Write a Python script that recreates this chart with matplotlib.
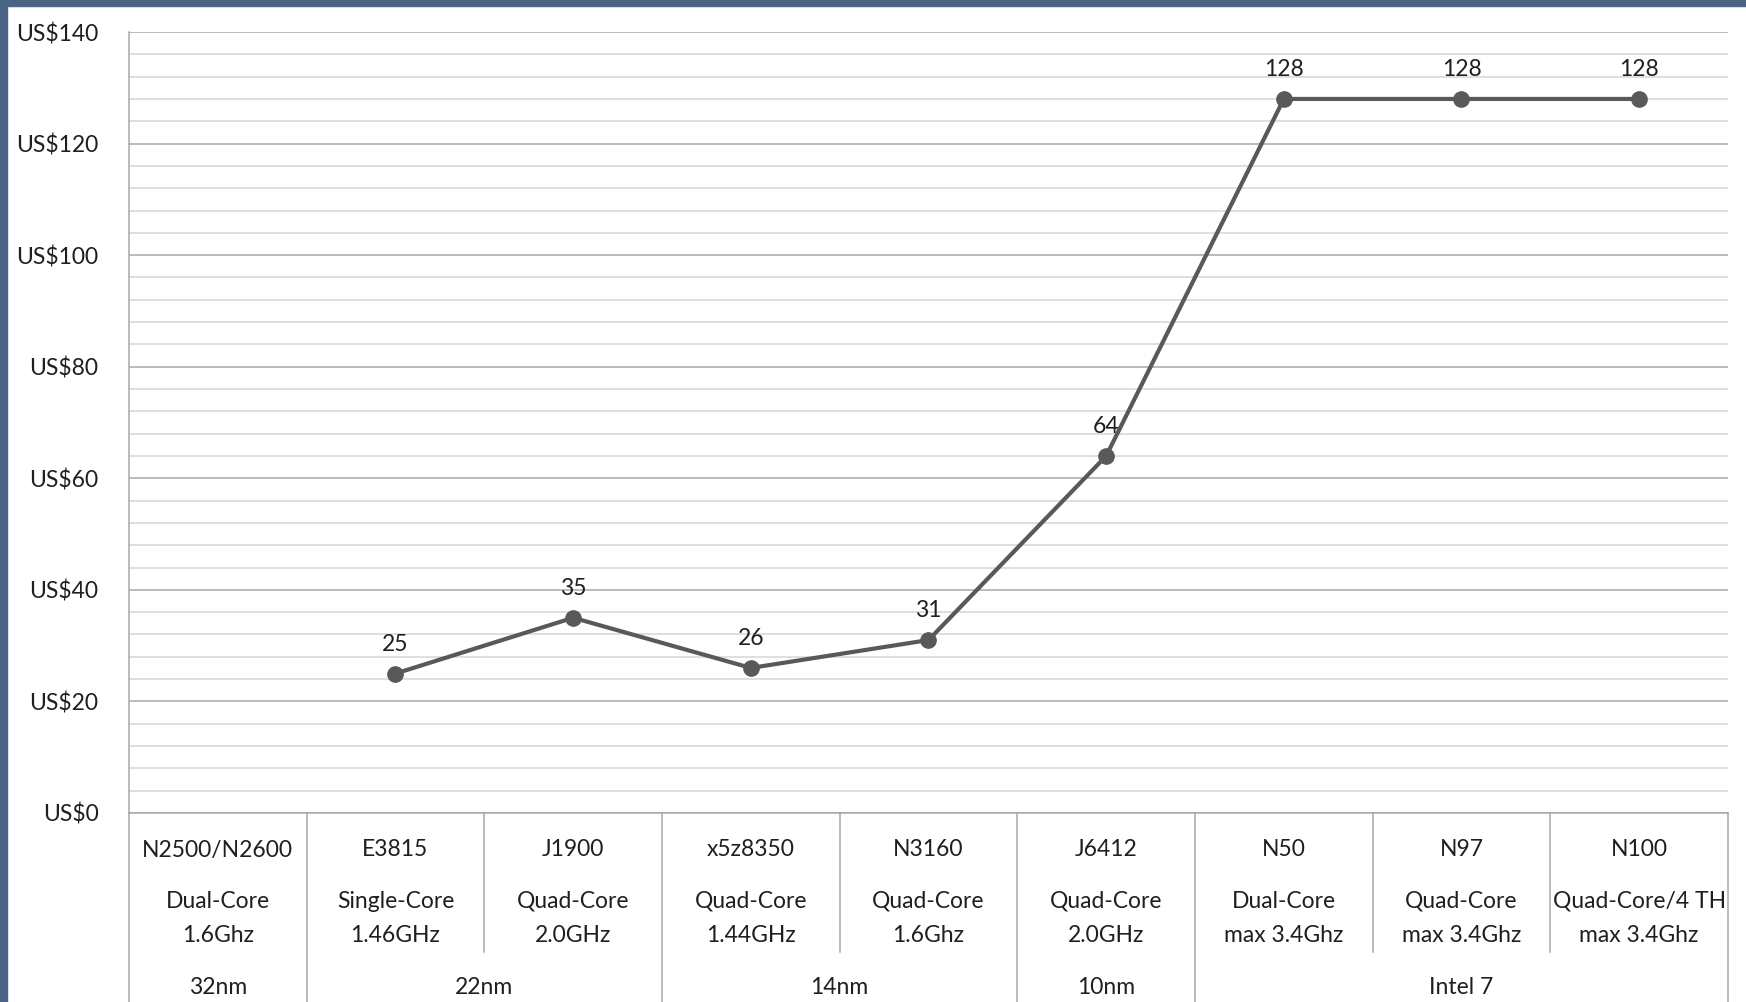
import matplotlib
matplotlib.use("Agg")
import matplotlib.pyplot as plt
from matplotlib.patches import Rectangle

plt.rcParams['font.family'] = ['Lato', 'DejaVu Sans']

# 数据
chips = ["N2500/N2600", "E3815", "J1900", "x5z8350", "N3160", "J6412", "N50", "N97", "N100"]
cores = ["Dual-Core", "Single-Core", "Quad-Core", "Quad-Core", "Quad-Core", "Quad-Core",
         "Dual-Core", "Quad-Core", "Quad-Core/4 TH"]
clocks = ["1.6Ghz", "1.46GHz", "2.0GHz", "1.44GHz", "1.6Ghz", "2.0GHz",
          "max 3.4Ghz", "max 3.4Ghz", "max 3.4Ghz"]
prices = [None, 25, 35, 26, 31, 64, 128, 128, 128]
nodes = ["32nm", "22nm", "14nm", "10nm", "Intel 7"]
node_spans = [(0, 0), (1, 2), (3, 4), (5, 5), (6, 8)]
y_ticks = [0, 20, 40, 60, 80, 100, 120, 140]

W, H = 1746, 1002
AX_L, AX_R, AX_T, AX_B = 129, 1728, 32, 813
TXT = '#1f1f1f'
FS = 16.5

fig = plt.figure(figsize=(W / 100, H / 100), dpi=100)
fig.patch.set_facecolor('white')
# 左侧和顶部的深色边框
fig.patches.append(Rectangle((0, 0), 7 / W, 1, transform=fig.transFigure, color='#4a6485', zorder=10))
fig.patches.append(Rectangle((0, 1 - 6 / H), 1, 6 / H, transform=fig.transFigure, color='#4a6485', zorder=10))

ax = fig.add_axes([AX_L / W, 1 - AX_B / H, (AX_R - AX_L) / W, (AX_B - AX_T) / H])
ax.set_xlim(-0.5, len(chips) - 0.5)
ax.set_ylim(0, 140)

# 网格线
ax.set_yticks(y_ticks)
ax.set_yticks(range(0, 141, 4), minor=True)
ax.grid(which='minor', axis='y', color='#d6d6d6', linewidth=1.1)
ax.grid(which='major', axis='y', color='#a8a8a8', linewidth=1.1)
ax.set_axisbelow(True)
ax.set_yticklabels([f"US${v}" for v in y_ticks], fontsize=FS, color=TXT)
ax.tick_params(axis='y', which='both', length=0, pad=22)
ax.set_xticks([])
for s in ['top', 'right', 'bottom']:
    ax.spines[s].set_visible(False)
ax.spines['left'].set_color('#a8a8a8')
ax.spines['left'].set_linewidth(1.1)

# 折线
xs = [i for i, p in enumerate(prices) if p is not None]
ys = [p for p in prices if p is not None]
ax.plot(xs, ys, color='#595959', linewidth=3.0, marker='o', markersize=11, zorder=3)
for x, y in zip(xs, ys):
    ax.annotate(str(y), (x, y), xytext=(0, 21), textcoords='offset points',
                ha='center', va='center', fontsize=FS, color=TXT)


# 底部分类表格
def ypix(p):
    return (AX_B - p) / (AX_B - AX_T)


tf = ax.get_xaxis_transform()
line_kw = dict(color='#a8a8a8', linewidth=1.1, clip_on=False, transform=tf)
ax.plot([-0.5, len(chips) - 0.5], [0, 0], **line_kw)
ax.plot([-0.5, -0.5], [0, ypix(H)], **line_kw)
ax.plot([len(chips) - 0.5] * 2, [0, ypix(H)], **line_kw)
group_edges = {a - 0.5 for a, b in node_spans if a > 0}
for i in range(1, len(chips)):
    edge = i - 0.5
    end = ypix(H) if edge in group_edges else ypix(952)
    ax.plot([edge, edge], [0, end], **line_kw)

for i in range(len(chips)):
    ax.text(i, ypix(850), chips[i], transform=tf, ha='center', va='center', fontsize=FS, color=TXT)
    ax.text(i, ypix(901), cores[i], transform=tf, ha='center', va='center', fontsize=FS, color=TXT)
    ax.text(i, ypix(935), clocks[i], transform=tf, ha='center', va='center', fontsize=FS, color=TXT)
for name, (a, b) in zip(nodes, node_spans):
    ax.text((a + b) / 2, ypix(987), name, transform=tf, ha='center', va='center', fontsize=FS, color=TXT)

fig.savefig('out.png', dpi=100)
